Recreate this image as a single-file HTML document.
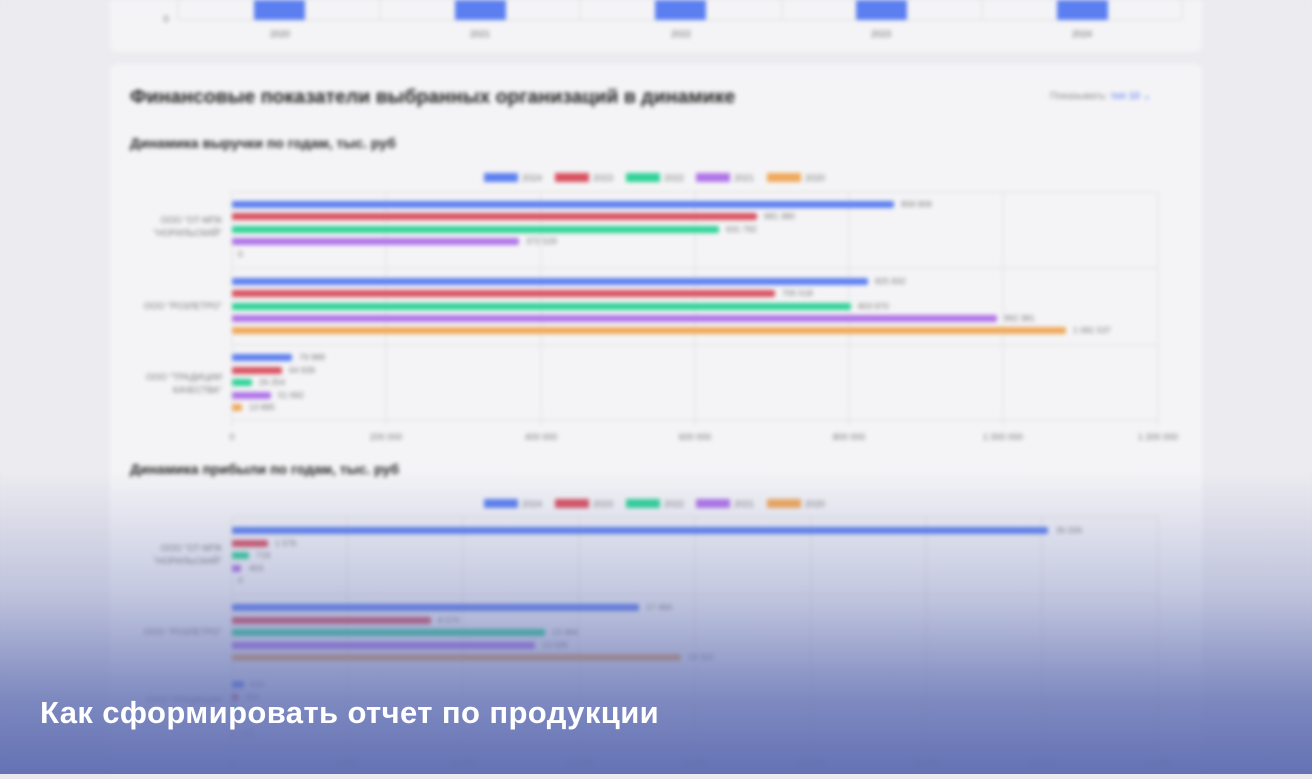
<!DOCTYPE html>
<html><head><meta charset="utf-8"><style>
html,body{margin:0;padding:0;width:1312px;height:774px;overflow:hidden;background:#e9e9ee;font-family:"Liberation Sans",sans-serif}
#wrap{position:absolute;left:0;top:0;width:1312px;height:774px;filter:blur(2px)}
#ov{position:absolute;left:0;top:0;width:1312px;height:774px;background:linear-gradient(to bottom,rgba(110,122,185,0) 0px,rgba(110,122,185,0) 470px,rgba(110,122,185,0.35) 590px,rgba(100,114,180,0.82) 700px,rgba(96,110,178,0.97) 774px)}
#cap{position:absolute;left:40px;top:695px;color:#fff;font-size:31px;font-weight:bold;letter-spacing:0.4px}
</style></head><body>
<div id="wrap">
<svg width="1312" height="774" xmlns="http://www.w3.org/2000/svg" font-family="Liberation Sans, sans-serif">
<rect width="1312" height="774" fill="#ececf0"/>
<rect x="110" y="-20" width="1092" height="72" rx="8" fill="#f4f4f6"/>
<g stroke="#ddd" stroke-width="1">
<line x1="178" y1="0" x2="178" y2="20"/><line x1="178" y1="20" x2="1182" y2="20"/>
<line x1="380" y1="0" x2="380" y2="20"/><line x1="580" y1="0" x2="580" y2="20"/><line x1="782" y1="0" x2="782" y2="20"/><line x1="982" y1="0" x2="982" y2="20"/><line x1="1182" y1="0" x2="1182" y2="20"/>
</g>
<g fill="#5b7ff0"><rect x="254" y="0" width="51" height="20"/><rect x="455" y="0" width="51" height="20"/><rect x="655" y="0" width="51" height="20"/><rect x="856" y="0" width="51" height="20"/><rect x="1057" y="0" width="51" height="20"/></g>
<g font-size="9" fill="#666" text-anchor="middle"><text x="166" y="22">0</text><text x="280" y="37">2020</text><text x="480" y="37">2021</text><text x="681" y="37">2022</text><text x="881" y="37">2023</text><text x="1082" y="37">2024</text></g>
<rect x="110" y="64" width="1092" height="740" rx="8" fill="#f4f4f6"/>
<text x="130" y="103" font-size="19.5" font-weight="bold" fill="#222">Финансовые показатели выбранных организаций в динамике</text>
<text x="1050" y="99" font-size="10" fill="#888">Показывать: <tspan fill="#4a6ef0">топ 10 ⌄</tspan></text>
<text x="130" y="148" font-size="14" font-weight="bold" fill="#222">Динамика выручки по годам, тыс. руб</text>
<text x="130" y="474" font-size="14" font-weight="bold" fill="#222">Динамика прибыли по годам, тыс. руб</text>
<g id="leg1" font-size="9" fill="#777">
<rect x="484" y="173" width="34" height="9" fill="#5b7ff0"/><text x="522" y="181">2024</text>
<rect x="555" y="173" width="34" height="9" fill="#d9505f"/><text x="593" y="181">2023</text>
<rect x="626" y="173" width="34" height="9" fill="#2ed397"/><text x="664" y="181">2022</text>
<rect x="696" y="173" width="34" height="9" fill="#b073e8"/><text x="734" y="181">2021</text>
<rect x="767" y="173" width="34" height="9" fill="#f0a85a"/><text x="805" y="181">2020</text>
</g>
<use href="#leg1" y="326"/>
<g stroke="#dedede">
<line x1="232" y1="192" x2="1158" y2="192"/><line x1="232" y1="268" x2="1158" y2="268"/><line x1="232" y1="345" x2="1158" y2="345"/><line x1="232" y1="420" x2="1158" y2="420"/>
<line x1="232" y1="192" x2="232" y2="426"/><line x1="386" y1="192" x2="386" y2="426"/><line x1="541" y1="192" x2="541" y2="426"/><line x1="695" y1="192" x2="695" y2="426"/><line x1="849" y1="192" x2="849" y2="426"/><line x1="1003" y1="192" x2="1003" y2="426"/><line x1="1158" y1="192" x2="1158" y2="426"/>
<line x1="232" y1="517" x2="1158" y2="517"/><line x1="232" y1="594" x2="1158" y2="594"/><line x1="232" y1="671" x2="1158" y2="671"/><line x1="232" y1="748" x2="1158" y2="748"/>
<line x1="232" y1="517" x2="232" y2="754"/><line x1="347" y1="517" x2="347" y2="754"/><line x1="463" y1="517" x2="463" y2="754"/><line x1="579" y1="517" x2="579" y2="754"/><line x1="695" y1="517" x2="695" y2="754"/><line x1="811" y1="517" x2="811" y2="754"/><line x1="926" y1="517" x2="926" y2="754"/><line x1="1042" y1="517" x2="1042" y2="754"/><line x1="1158" y1="517" x2="1158" y2="754"/>
</g>
<g font-size="9" fill="#777" text-anchor="middle">
<text x="232" y="440">0</text><text x="386" y="440">200 000</text><text x="541" y="440">400 000</text><text x="695" y="440">600 000</text><text x="849" y="440">800 000</text><text x="1003" y="440">1 000 000</text><text x="1158" y="440">1 200 000</text>
<text x="232" y="767">0</text><text x="347" y="767">5 000</text><text x="463" y="767">10 000</text><text x="579" y="767">15 000</text><text x="695" y="767">20 000</text><text x="811" y="767">25 000</text><text x="926" y="767">30 000</text><text x="1042" y="767">35 000</text><text x="1158" y="767">40 000</text>
</g>
<g font-size="9" fill="#777" text-anchor="end">
<text x="222" y="223">ООО "ОТ-МПК</text><text x="222" y="236">"НОРИЛЬСКИЙ"</text>
<text x="222" y="309">ООО "РОЗЛЕТРО"</text>
<text x="222" y="380">ООО "ТРАДИЦИИ</text><text x="222" y="393">КАЧЕСТВА"</text>
<text x="222" y="551">ООО "ОТ-МПК</text><text x="222" y="564">"НОРИЛЬСКИЙ"</text>
<text x="222" y="635">ООО "РОЗЛЕТРО"</text>
<text x="222" y="703">ООО "ТРАДИЦИИ</text>
</g>
<g font-size="8.5" fill="#777">
<rect x="232" y="201" width="662" height="7" rx="2" fill="#5b7ff0"/><text x="901" y="207">858 909</text>
<rect x="232" y="213" width="525" height="7" rx="2" fill="#d9505f"/><text x="764" y="219">681 380</text>
<rect x="232" y="226" width="487" height="7" rx="2" fill="#2ed397"/><text x="726" y="232">631 792</text>
<rect x="232" y="238" width="287" height="7" rx="2" fill="#b073e8"/><text x="526" y="244">372 529</text>
<text x="238" y="257">0</text>
<rect x="232" y="278" width="636" height="7" rx="2" fill="#5b7ff0"/><text x="875" y="284">825 832</text>
<rect x="232" y="290" width="543" height="7" rx="2" fill="#d9505f"/><text x="782" y="296">705 518</text>
<rect x="232" y="303" width="619" height="7" rx="2" fill="#2ed397"/><text x="858" y="309">803 970</text>
<rect x="232" y="315" width="765" height="7" rx="2" fill="#b073e8"/><text x="1004" y="321">992 381</text>
<rect x="232" y="327" width="834" height="7" rx="2" fill="#f0a85a"/><text x="1073" y="333">1 081 537</text>
<rect x="232" y="354" width="60" height="7" rx="2" fill="#5b7ff0"/><text x="299" y="360">79 988</text>
<rect x="232" y="367" width="50" height="7" rx="2" fill="#d9505f"/><text x="289" y="373">64 639</text>
<rect x="232" y="379" width="20" height="7" rx="2" fill="#2ed397"/><text x="259" y="385">26 254</text>
<rect x="232" y="392" width="39" height="7" rx="2" fill="#b073e8"/><text x="278" y="398">51 692</text>
<rect x="232" y="404" width="10" height="7" rx="2" fill="#f0a85a"/><text x="249" y="410">13 895</text>
<rect x="232" y="527" width="816" height="7" rx="2" fill="#5b7ff0"/><text x="1056" y="533">35 026</text>
<rect x="232" y="540" width="36" height="7" rx="2" fill="#d9505f"/><text x="275" y="546">1 576</text>
<rect x="232" y="552" width="17" height="7" rx="2" fill="#2ed397"/><text x="256" y="558">719</text>
<rect x="232" y="565" width="9" height="7" rx="2" fill="#b073e8"/><text x="249" y="571">403</text>
<text x="238" y="583">0</text>
<rect x="232" y="604" width="407" height="7" rx="2" fill="#5b7ff0"/><text x="646" y="610">17 494</text>
<rect x="232" y="617" width="199" height="7" rx="2" fill="#d9505f"/><text x="438" y="623">8 574</text>
<rect x="232" y="629" width="313" height="7" rx="2" fill="#2ed397"/><text x="552" y="635">13 484</text>
<rect x="232" y="642" width="303" height="7" rx="2" fill="#b073e8"/><text x="542" y="648">13 035</text>
<rect x="232" y="654" width="449" height="7" rx="2" fill="#f0a85a"/><text x="688" y="660">19 315</text>
<rect x="232" y="681" width="12" height="7" rx="2" fill="#5b7ff0"/><text x="250" y="687">524</text>
<rect x="232" y="694" width="6" height="7" rx="2" fill="#d9505f"/><text x="245" y="700">256</text>
<rect x="232" y="706" width="4" height="7" rx="2" fill="#2ed397"/>
<rect x="232" y="719" width="3" height="7" rx="2" fill="#b073e8"/>
<rect x="232" y="731" width="3" height="7" rx="2" fill="#f0a85a"/><text x="240" y="737">121</text>
</g>
</svg>
</div>
<div id="ov"></div>
<div id="cap">Как сформировать отчет по продукции</div>
</body></html>
